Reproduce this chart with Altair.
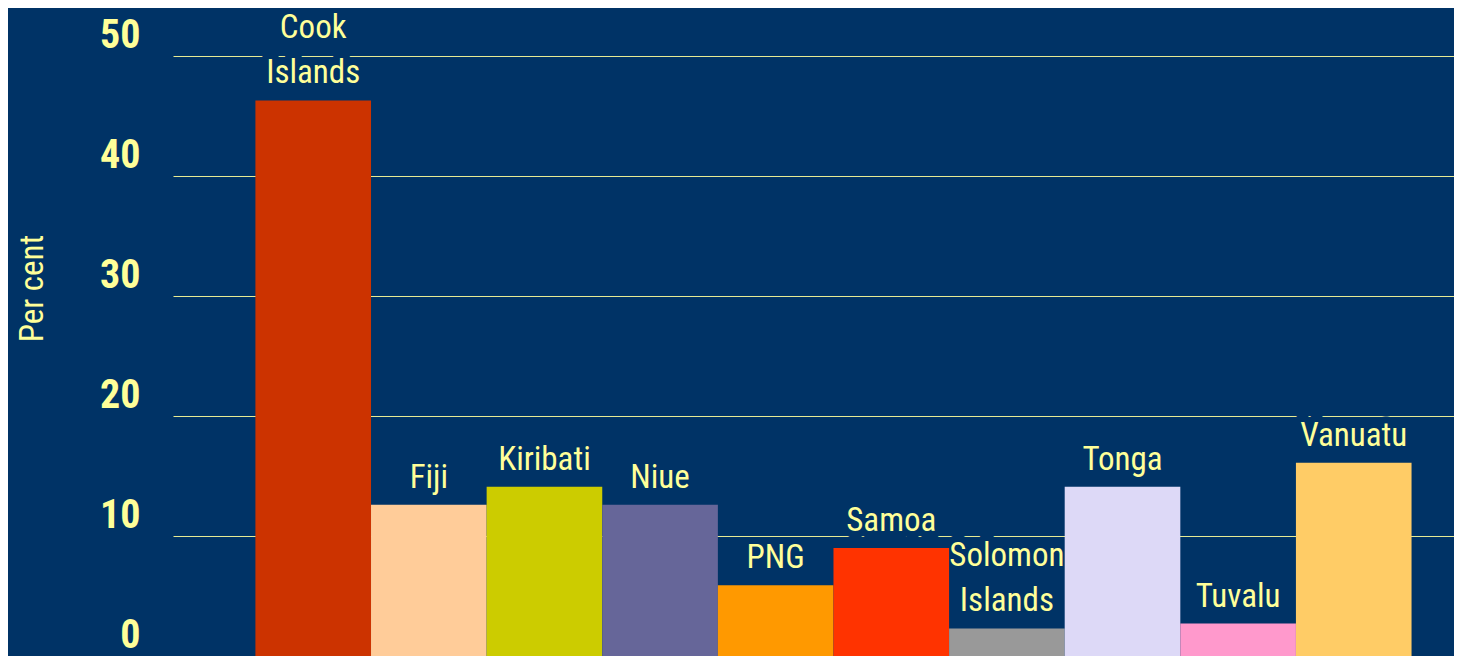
import altair as alt
import pandas as pd

countries = ["Cook Islands", "Fiji", "Kiribati", "Niue", "PNG", "Samoa",
             "Solomon Islands", "Tonga", "Tuvalu", "Vanuatu"]
values = [46.3, 12.6, 14.1, 12.6, 5.9, 9.0, 2.3, 14.1, 2.7, 16.1]
bar_colors = ["#CC3300", "#FFCC99", "#CCCC00", "#666699", "#FF9900", "#FF3300",
              "#999999", "#DDD9F7", "#FF99CC", "#FFCC66"]
y_ticks = [0, 10, 20, 30, 40, 50]

df = pd.DataFrame({"country": countries, "value": values})

FONT = "Roboto Condensed, Liberation Sans Narrow, DejaVu Sans Condensed, sans-serif"
TXT = "#FFFF99"
BG = "#003366"

x = alt.X("country:N", sort=countries, axis=None,
          scale=alt.Scale(paddingInner=0, paddingOuter=0.54, align=0.66))
y = alt.Y("value:Q",
          scale=alt.Scale(domain=[0, 54], nice=False, zero=True),
          axis=alt.Axis(values=y_ticks, title="Per cent", ticks=False, domain=False,
                        grid=True, gridColor=TXT, gridWidth=1, gridOpacity=0.9,
                        labelFont=FONT, labelFontSize=40, labelFontWeight="bold",
                        labelColor=TXT, labelBaseline="alphabetic", labelOffset=-9,
                        labelPadding=33,
                        titleFont=FONT, titleFontSize=33, titleFontWeight="normal",
                        titleColor=TXT, titleAngle=270, titleBaseline="alphabetic",
                        titleAlign="center", titleX=-131, titleY=280))

bars = alt.Chart(df).mark_bar().encode(
    x=x, y=y,
    color=alt.Color("country:N", scale=alt.Scale(domain=countries, range=bar_colors),
                    legend=None),
)

base_txt = alt.Chart(df).transform_calculate(
    parts="split(datum.country, ' ')",
).transform_calculate(
    bottom_line="peek(datum.parts)",
    top_line="length(datum.parts) > 1 ? datum.parts[0] : ''",
)

def text_layer(field, dy, halo):
    kw = dict(baseline="alphabetic", dy=dy, font=FONT, fontSize=33)
    if halo:
        kw.update(color=BG, stroke=BG, strokeWidth=14, strokeJoin="round")
    else:
        kw.update(color=TXT)
    return base_txt.mark_text(**kw).encode(x=x, y=y, text=alt.Text(f"{field}:N"))

# halos (hide gridlines behind labels) go under the bars; text goes on top
layers = [
    text_layer("bottom_line", -17, True),
    text_layer("top_line", -62, True),
    bars,
    text_layer("bottom_line", -17, False),
    text_layer("top_line", -62, False),
]

chart = alt.layer(*layers).properties(
    width=1281, height=648,
    padding={"left": 165, "top": 0, "right": 0, "bottom": 0},
    autosize=alt.AutoSizeParams(type="none"),
    background=BG,
).configure_view(stroke=None)

chart.save("out.html", embed_options={"renderer": "svg", "actions": False})
